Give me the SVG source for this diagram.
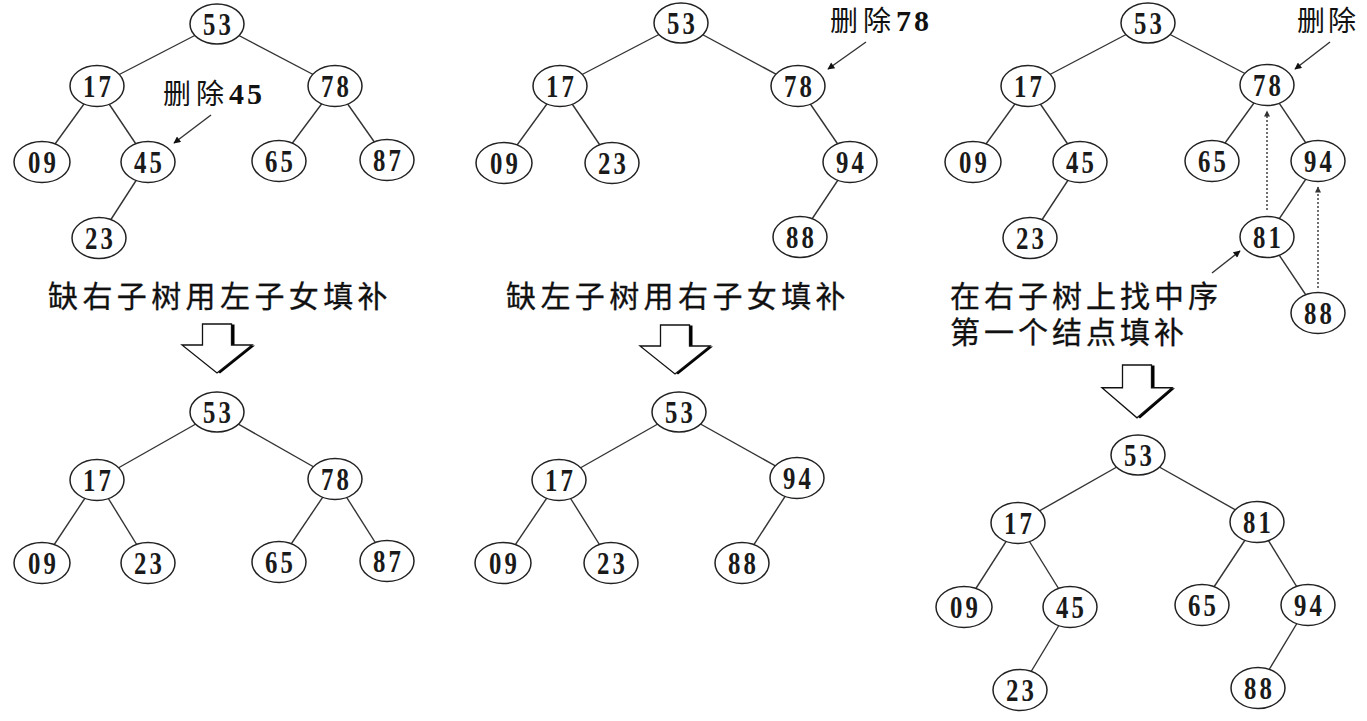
<svg xmlns="http://www.w3.org/2000/svg" width="1367" height="721" viewBox="0 0 1367 721">
<style>
.n ellipse{fill:#fff;stroke:#222;stroke-width:1.5}
.n text{font-family:"Liberation Serif","Times New Roman",serif;font-size:31px;font-weight:bold;text-anchor:middle;fill:#1a1a1a;letter-spacing:4px}
.e line{stroke:#333;stroke-width:1.4}
.cap{font-family:"Noto Sans CJK SC",sans-serif;font-size:30px;letter-spacing:4.4px;fill:#111;stroke:#111;stroke-width:0.3}
.lbl{font-size:28px;fill:#111}
.lbl .c{font-family:"Noto Sans CJK SC",sans-serif;letter-spacing:5px}
.lbl .d{font-family:"Liberation Serif",serif;font-size:30px;font-weight:bold;letter-spacing:3px}
.ann{stroke:#222;stroke-width:1.3;fill:none}
.dot{stroke:#444;stroke-width:1;stroke-dasharray:2 2;fill:none}
.bshadow{fill:#000}
.bbody{fill:#fff;stroke:#111;stroke-width:1.3;stroke-linejoin:miter}
</style>
<defs>
<marker id="ah" viewBox="0 0 10 10" refX="9" refY="5" markerWidth="9" markerHeight="7" markerUnits="userSpaceOnUse" orient="auto">
<path d="M0,0 L10,5 L0,10 z" fill="#111"/>
</marker>
<marker id="ahs" viewBox="0 0 10 10" refX="9" refY="5" markerWidth="8" markerHeight="6" markerUnits="userSpaceOnUse" orient="auto">
<path d="M0,0 L10,5 L0,10 z" fill="#333"/>
</marker>
<path id="barrow" d="M-14.5,0 L14.5,0 L14.5,21 L35,21 L0,49 L-35,21 L-14.5,21 Z"/>
</defs>

<g id="connectors" class="e">
<line x1="217" y1="24" x2="97" y2="86"/>
<line x1="217" y1="24" x2="335" y2="86"/>
<line x1="97" y1="86" x2="42" y2="162"/>
<line x1="97" y1="86" x2="148" y2="162"/>
<line x1="148" y1="162" x2="99" y2="238"/>
<line x1="335" y1="86" x2="279" y2="161"/>
<line x1="335" y1="86" x2="387" y2="160"/>
<line x1="217" y1="412" x2="97" y2="480"/>
<line x1="217" y1="412" x2="335" y2="479"/>
<line x1="97" y1="480" x2="42" y2="563"/>
<line x1="97" y1="480" x2="148" y2="563"/>
<line x1="335" y1="479" x2="279" y2="562"/>
<line x1="335" y1="479" x2="387" y2="561"/>
<line x1="681" y1="23" x2="560" y2="86"/>
<line x1="681" y1="23" x2="798" y2="86"/>
<line x1="560" y1="86" x2="504" y2="163"/>
<line x1="560" y1="86" x2="612" y2="163"/>
<line x1="798" y1="86" x2="850" y2="162"/>
<line x1="850" y1="162" x2="800" y2="237"/>
<line x1="679" y1="412" x2="559" y2="480"/>
<line x1="679" y1="412" x2="797" y2="478"/>
<line x1="559" y1="480" x2="503" y2="563"/>
<line x1="559" y1="480" x2="611" y2="563"/>
<line x1="797" y1="478" x2="742" y2="563"/>
<line x1="1148" y1="23" x2="1028" y2="86"/>
<line x1="1148" y1="23" x2="1267" y2="85"/>
<line x1="1028" y1="86" x2="973" y2="162"/>
<line x1="1028" y1="86" x2="1080" y2="162"/>
<line x1="1080" y1="162" x2="1030" y2="238"/>
<line x1="1267" y1="85" x2="1212" y2="161"/>
<line x1="1267" y1="85" x2="1318" y2="161"/>
<line x1="1318" y1="161" x2="1267" y2="237"/>
<line x1="1267" y1="237" x2="1318" y2="313"/>
<line x1="1138" y1="455" x2="1018" y2="523"/>
<line x1="1138" y1="455" x2="1257" y2="522"/>
<line x1="1018" y1="523" x2="964" y2="607"/>
<line x1="1018" y1="523" x2="1070" y2="607"/>
<line x1="1070" y1="607" x2="1020" y2="690"/>
<line x1="1257" y1="522" x2="1202" y2="605"/>
<line x1="1257" y1="522" x2="1308" y2="605"/>
<line x1="1308" y1="605" x2="1258" y2="688"/>
<line class="ann" x1="211" y1="115" x2="174" y2="143" marker-end="url(#ah)"/>
<line class="ann" x1="866" y1="42" x2="828" y2="69" marker-end="url(#ah)"/>
<line class="ann" x1="1330" y1="42" x2="1295" y2="69" marker-end="url(#ah)"/>
<line class="ann" x1="1212" y1="273" x2="1240" y2="251" marker-end="url(#ah)"/>
<line class="dot" x1="1267" y1="210" x2="1267" y2="111" marker-end="url(#ahs)"/>
<line class="dot" x1="1318" y1="288" x2="1318" y2="187" marker-end="url(#ahs)"/>
</g>

<g id="p1t-53" class="n"><ellipse cx="217" cy="24" rx="27" ry="20"/><text x="2" transform="translate(217,34.5) scale(0.8,1)">53</text></g>
<g id="p1t-17" class="n"><ellipse cx="97" cy="86" rx="27" ry="20.5"/><text x="2" transform="translate(97,96.5) scale(0.8,1)">17</text></g>
<g id="p1t-78" class="n"><ellipse cx="335" cy="86" rx="27" ry="20.5"/><text x="2" transform="translate(335,96.5) scale(0.8,1)">78</text></g>
<g id="p1t-09" class="n"><ellipse cx="42" cy="162" rx="28" ry="20.5"/><text x="2" transform="translate(42,172.5) scale(0.8,1)">09</text></g>
<g id="p1t-45" class="n"><ellipse cx="148" cy="162" rx="27" ry="20.5"/><text x="2" transform="translate(148,172.5) scale(0.8,1)">45</text></g>
<g id="p1t-65" class="n"><ellipse cx="279" cy="161" rx="27" ry="20.5"/><text x="2" transform="translate(279,171.5) scale(0.8,1)">65</text></g>
<g id="p1t-87" class="n"><ellipse cx="387" cy="160" rx="27" ry="20.5"/><text x="2" transform="translate(387,170.5) scale(0.8,1)">87</text></g>
<g id="p1t-23" class="n"><ellipse cx="99" cy="238" rx="27" ry="20.5"/><text x="2" transform="translate(99,248.5) scale(0.8,1)">23</text></g>
<text id="lbl-del45" class="lbl" x="163" y="104"><tspan class="c">删除</tspan><tspan class="d">45</tspan></text>

<text id="cap1" class="cap" x="48" y="307">缺右子树用左子女填补</text>
<g id="barrow1" transform="translate(217,324)">
<use href="#barrow" class="bshadow" transform="translate(3,0.5)"/>
<use href="#barrow" class="bbody"/>
</g>

<g id="p1b-53" class="n"><ellipse cx="217" cy="412" rx="27" ry="20"/><text x="2" transform="translate(217,422.5) scale(0.8,1)">53</text></g>
<g id="p1b-17" class="n"><ellipse cx="97" cy="480" rx="27" ry="20.5"/><text x="2" transform="translate(97,490.5) scale(0.8,1)">17</text></g>
<g id="p1b-78" class="n"><ellipse cx="335" cy="479" rx="27" ry="20.5"/><text x="2" transform="translate(335,489.5) scale(0.8,1)">78</text></g>
<g id="p1b-09" class="n"><ellipse cx="42" cy="563" rx="28" ry="20.5"/><text x="2" transform="translate(42,573.5) scale(0.8,1)">09</text></g>
<g id="p1b-23" class="n"><ellipse cx="148" cy="563" rx="27" ry="20.5"/><text x="2" transform="translate(148,573.5) scale(0.8,1)">23</text></g>
<g id="p1b-65" class="n"><ellipse cx="279" cy="562" rx="27" ry="20.5"/><text x="2" transform="translate(279,572.5) scale(0.8,1)">65</text></g>
<g id="p1b-87" class="n"><ellipse cx="387" cy="561" rx="27" ry="20.5"/><text x="2" transform="translate(387,571.5) scale(0.8,1)">87</text></g>

<g id="p2t-53" class="n"><ellipse cx="681" cy="23" rx="27" ry="20"/><text x="2" transform="translate(681,33.5) scale(0.8,1)">53</text></g>
<g id="p2t-17" class="n"><ellipse cx="560" cy="86" rx="27" ry="20.5"/><text x="2" transform="translate(560,96.5) scale(0.8,1)">17</text></g>
<g id="p2t-78" class="n"><ellipse cx="798" cy="86" rx="27" ry="20.5"/><text x="2" transform="translate(798,96.5) scale(0.8,1)">78</text></g>
<g id="p2t-09" class="n"><ellipse cx="504" cy="163" rx="28" ry="20.5"/><text x="2" transform="translate(504,173.5) scale(0.8,1)">09</text></g>
<g id="p2t-23" class="n"><ellipse cx="612" cy="163" rx="27" ry="20.5"/><text x="2" transform="translate(612,173.5) scale(0.8,1)">23</text></g>
<g id="p2t-94" class="n"><ellipse cx="850" cy="162" rx="27" ry="20.5"/><text x="2" transform="translate(850,172.5) scale(0.8,1)">94</text></g>
<g id="p2t-88" class="n"><ellipse cx="800" cy="237" rx="27" ry="20.5"/><text x="2" transform="translate(800,247.5) scale(0.8,1)">88</text></g>
<text id="lbl-del78" class="lbl" x="830" y="31"><tspan class="c">删除</tspan><tspan class="d">78</tspan></text>

<text id="cap2" class="cap" x="506" y="307">缺左子树用右子女填补</text>
<g id="barrow2" transform="translate(675,325)">
<use href="#barrow" class="bshadow" transform="translate(3,0.5)"/>
<use href="#barrow" class="bbody"/>
</g>

<g id="p2b-53" class="n"><ellipse cx="679" cy="412" rx="27" ry="20"/><text x="2" transform="translate(679,422.5) scale(0.8,1)">53</text></g>
<g id="p2b-17" class="n"><ellipse cx="559" cy="480" rx="27" ry="20.5"/><text x="2" transform="translate(559,490.5) scale(0.8,1)">17</text></g>
<g id="p2b-94" class="n"><ellipse cx="797" cy="478" rx="27" ry="20.5"/><text x="2" transform="translate(797,488.5) scale(0.8,1)">94</text></g>
<g id="p2b-09" class="n"><ellipse cx="503" cy="563" rx="28" ry="20.5"/><text x="2" transform="translate(503,573.5) scale(0.8,1)">09</text></g>
<g id="p2b-23" class="n"><ellipse cx="611" cy="563" rx="27" ry="20.5"/><text x="2" transform="translate(611,573.5) scale(0.8,1)">23</text></g>
<g id="p2b-88" class="n"><ellipse cx="742" cy="563" rx="27" ry="20.5"/><text x="2" transform="translate(742,573.5) scale(0.8,1)">88</text></g>

<g id="p3t-53" class="n"><ellipse cx="1148" cy="23" rx="27" ry="20"/><text x="2" transform="translate(1148,33.5) scale(0.8,1)">53</text></g>
<g id="p3t-17" class="n"><ellipse cx="1028" cy="86" rx="27" ry="20.5"/><text x="2" transform="translate(1028,96.5) scale(0.8,1)">17</text></g>
<g id="p3t-78" class="n"><ellipse cx="1267" cy="85" rx="27" ry="20.5"/><text x="2" transform="translate(1267,95.5) scale(0.8,1)">78</text></g>
<g id="p3t-09" class="n"><ellipse cx="973" cy="162" rx="28" ry="20.5"/><text x="2" transform="translate(973,172.5) scale(0.8,1)">09</text></g>
<g id="p3t-45" class="n"><ellipse cx="1080" cy="162" rx="27" ry="20.5"/><text x="2" transform="translate(1080,172.5) scale(0.8,1)">45</text></g>
<g id="p3t-65" class="n"><ellipse cx="1212" cy="161" rx="27" ry="20.5"/><text x="2" transform="translate(1212,171.5) scale(0.8,1)">65</text></g>
<g id="p3t-94" class="n"><ellipse cx="1318" cy="161" rx="27" ry="20.5"/><text x="2" transform="translate(1318,171.5) scale(0.8,1)">94</text></g>
<g id="p3t-23" class="n"><ellipse cx="1030" cy="238" rx="27" ry="20.5"/><text x="2" transform="translate(1030,248.5) scale(0.8,1)">23</text></g>
<g id="p3t-81" class="n"><ellipse cx="1267" cy="237" rx="27" ry="20.5"/><text x="2" transform="translate(1267,247.5) scale(0.8,1)">81</text></g>
<g id="p3t-88" class="n"><ellipse cx="1318" cy="313" rx="27" ry="20.5"/><text x="2" transform="translate(1318,323.5) scale(0.8,1)">88</text></g>
<text id="lbl-del" class="lbl" x="1297" y="31"><tspan class="c" style="letter-spacing:3px">删除</tspan></text>

<text id="cap3" class="cap" style="letter-spacing:4px"><tspan x="950" y="307">在右子树上找中序</tspan><tspan x="950" y="343">第一个结点填补</tspan></text>
<g id="barrow3" transform="translate(1137,365) scale(1,1.08)">
<use href="#barrow" class="bshadow" transform="translate(3,0.5)"/>
<use href="#barrow" class="bbody"/>
</g>

<g id="p3b-53" class="n"><ellipse cx="1138" cy="455" rx="27" ry="20"/><text x="2" transform="translate(1138,465.5) scale(0.8,1)">53</text></g>
<g id="p3b-17" class="n"><ellipse cx="1018" cy="523" rx="27" ry="20.5"/><text x="2" transform="translate(1018,533.5) scale(0.8,1)">17</text></g>
<g id="p3b-81" class="n"><ellipse cx="1257" cy="522" rx="27" ry="20.5"/><text x="2" transform="translate(1257,532.5) scale(0.8,1)">81</text></g>
<g id="p3b-09" class="n"><ellipse cx="964" cy="607" rx="28" ry="20.5"/><text x="2" transform="translate(964,617.5) scale(0.8,1)">09</text></g>
<g id="p3b-45" class="n"><ellipse cx="1070" cy="607" rx="27" ry="20.5"/><text x="2" transform="translate(1070,617.5) scale(0.8,1)">45</text></g>
<g id="p3b-65" class="n"><ellipse cx="1202" cy="605" rx="27" ry="20.5"/><text x="2" transform="translate(1202,615.5) scale(0.8,1)">65</text></g>
<g id="p3b-94" class="n"><ellipse cx="1308" cy="605" rx="27" ry="20.5"/><text x="2" transform="translate(1308,615.5) scale(0.8,1)">94</text></g>
<g id="p3b-23" class="n"><ellipse cx="1020" cy="690" rx="27" ry="20.5"/><text x="2" transform="translate(1020,700.5) scale(0.8,1)">23</text></g>
<g id="p3b-88" class="n"><ellipse cx="1258" cy="688" rx="27" ry="20.5"/><text x="2" transform="translate(1258,698.5) scale(0.8,1)">88</text></g>
</svg>
